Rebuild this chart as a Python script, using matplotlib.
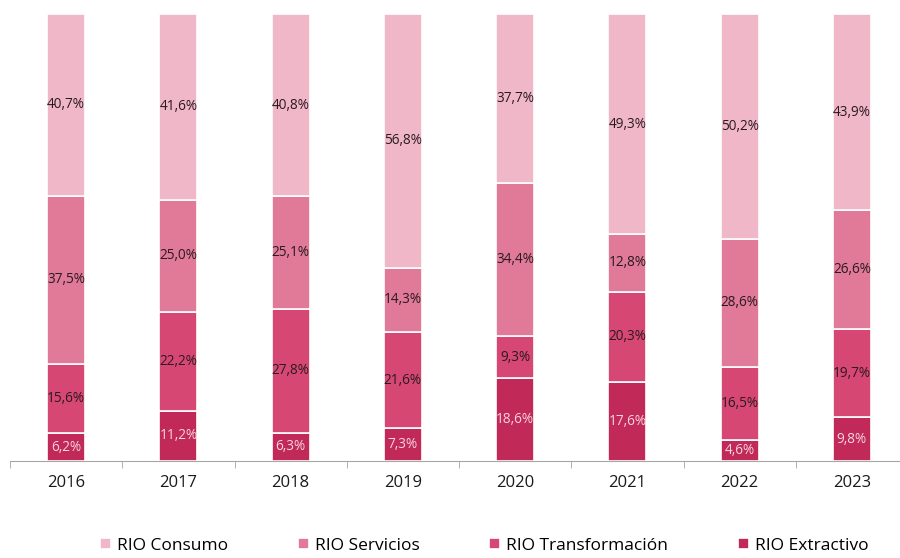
import numpy as np
import matplotlib
matplotlib.use("Agg")
import matplotlib.pyplot as plt

plt.rcParams['font.family'] = ['Open Sans', 'DejaVu Sans']

years = ['2016', '2017', '2018', '2019', '2020', '2021', '2022', '2023']
extractivo = [6.2, 11.2, 6.3, 7.3, 18.6, 17.6, 4.6, 9.8]
transformacion = [15.6, 22.2, 27.8, 21.6, 9.3, 20.3, 16.5, 19.7]
servicios = [37.5, 25.0, 25.1, 14.3, 34.4, 12.8, 28.6, 26.6]
consumo = [40.7, 41.6, 40.8, 56.8, 37.7, 49.3, 50.2, 43.9]

series = [
    ('RIO Extractivo', extractivo, '#C02958', '#F6D5DF'),
    ('RIO Transformación', transformacion, '#D64873', '#2B1A20'),
    ('RIO Servicios', servicios, '#E07A98', '#2B1A20'),
    ('RIO Consumo', consumo, '#F0B7C9', '#2B1A20'),
]

fig = plt.figure(figsize=(9, 5.58), dpi=100)
ax = fig.add_axes([10/900, 1 - 461/558, 898/900, 447/558])

x = np.arange(len(years))
bottom = np.zeros(len(years))
handles = {}
for name, vals, col, tcol in series:
    vals = np.array(vals)
    bars = ax.bar(x, vals, 0.34, bottom=bottom, color=col, edgecolor='white',
                  linewidth=1.2, label=name)
    handles[name] = bars
    for xi, b, v in zip(x, bottom, vals):
        ax.text(xi, b + v / 2, f"{v:.1f}%".replace('.', ','), ha='center',
                va='center', fontsize=9.8, color=tcol)
    bottom += vals

ax.set_xlim(-0.5, 7.5)
ax.set_ylim(0, 100)
ax.set_yticks([])
ax.set_xticks(x)
ax.set_xticklabels(years, fontsize=12, color='#1a1a1a')
ax.tick_params(axis='x', which='major', length=0, pad=10)
ax.set_xticks(np.arange(-0.5, 8, 1), minor=True)
ax.tick_params(axis='x', which='minor', length=5, color='#A6A6A6')
for s in ['top', 'right', 'left']:
    ax.spines[s].set_visible(False)
ax.spines['bottom'].set_color('#A6A6A6')

order = ['RIO Consumo', 'RIO Servicios', 'RIO Transformación', 'RIO Extractivo']
fig.legend([handles[n] for n in order], order, loc='center',
           bbox_to_anchor=(0.538, 0.022), ncol=4, frameon=False, fontsize=12.5,
           handlelength=0.65, handleheight=0.65, handletextpad=0.35,
           columnspacing=4.0)

fig.savefig('out.png', dpi=100)
